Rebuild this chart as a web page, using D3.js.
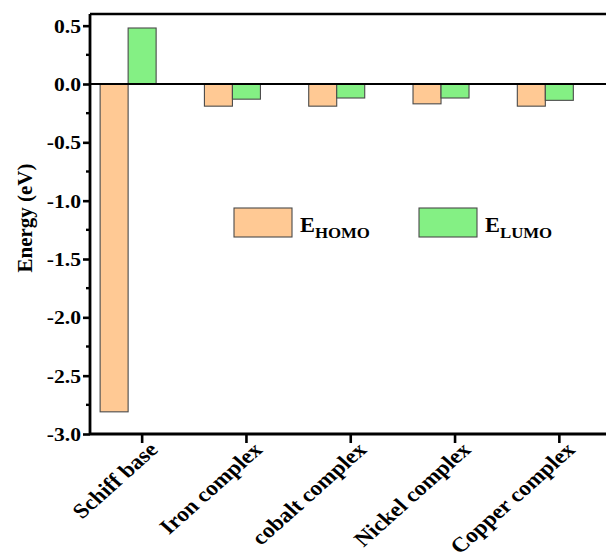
<!DOCTYPE html>
<html>
<head>
<meta charset="utf-8">
<script src="https://cdn.jsdelivr.net/npm/d3@7"></script>
<style>
  html, body { margin: 0; padding: 0; background: #fff; }
  svg { display: block; }
  text { font-family: "Times New Roman", "Liberation Serif", Tinos, serif; font-weight: bold; fill: #000; }
</style>
</head>
<body>
<svg id="chart" width="606" height="558"></svg>
<script>
// Frontier orbital energies (eV) of the ligand and its metal complexes
const categories = ["Schiff base", "Iron complex", "cobalt complex", "Nickel complex", "Copper complex"];
const series = ["HOMO", "LUMO"];
const homo = [-2.81, -0.19, -0.19, -0.17, -0.19];
const lumo = [0.48, -0.13, -0.12, -0.12, -0.14];
const yTicks = [-3.0, -2.5, -2.0, -1.5, -1.0, -0.5, 0.0, 0.5];
const yMinorTicks = [-2.75, -2.25, -1.75, -1.25, -0.75, -0.25, 0.25];

const colors = { HOMO: "#FFC994", LUMO: "#84F084" };
const serif = '"Times New Roman", "Liberation Serif", Tinos, serif';

const svg = d3.select("#chart");
const plotLeft = 90, plotRight = 611.5, plotTop = 14, plotBottom = 434;

const x = d3.scaleBand().domain(categories).range([plotLeft, plotRight]).padding(0);
const y = d3.scaleLinear().domain([-3, 0.6]).range([plotBottom, plotTop]);
const bw = x.bandwidth();
// HOMO sits left of the tick, LUMO is centred on it
const xs = d3.scaleBand().domain(series).range([-0.403 * bw, 0.134 * bw]).padding(0);

const rows = categories.map((c, i) => ({ c, HOMO: homo[i], LUMO: lumo[i] }));

// bars
const g = svg.append("g");
rows.forEach(r => {
  series.forEach(s => {
    const v = r[s];
    const cx = x(r.c) + bw / 2;
    g.append("rect")
      .attr("x", cx + xs(s))
      .attr("width", xs.bandwidth())
      .attr("y", y(Math.max(0, v)))
      .attr("height", Math.abs(y(v) - y(0)))
      .attr("fill", colors[s])
      .attr("stroke", "#4a4a4a")
      .attr("stroke-width", 1.1);
  });
});

// zero line
svg.append("line")
  .attr("x1", plotLeft).attr("x2", 606)
  .attr("y1", y(0)).attr("y2", y(0))
  .attr("stroke", "#000").attr("stroke-width", 2.2);

// top frame
svg.append("line")
  .attr("x1", plotLeft).attr("x2", 606)
  .attr("y1", plotTop).attr("y2", plotTop)
  .attr("stroke", "#000").attr("stroke-width", 2.6);

// y axis
const yAxis = svg.append("g")
  .attr("transform", `translate(${plotLeft},0)`)
  .call(d3.axisLeft(y).tickValues(yTicks).tickSize(7).tickSizeOuter(0)
    .tickFormat(d => d.toFixed(1)));
yAxis.attr("font-family", serif);
yAxis.select(".domain").attr("stroke-width", 2.8).attr("d", `M0,${plotTop}V${plotBottom}`);
yAxis.selectAll(".tick line").attr("stroke-width", 2.6);
yAxis.selectAll(".tick text")
  .attr("x", null).attr("dy", null)
  .attr("dominant-baseline", "central")
  .style("font-size", "18px")
  .style("font-family", serif)
  .style("font-weight", "bold")
  .attr("transform", "translate(-9,0) scale(1.2,1)");

// minor ticks
svg.append("g").selectAll("line").data(yMinorTicks).join("line")
  .attr("x1", plotLeft - 4).attr("x2", plotLeft)
  .attr("y1", d => y(d)).attr("y2", d => y(d))
  .attr("stroke", "#000").attr("stroke-width", 2.4);

// x axis
const xAxis = svg.append("g")
  .attr("transform", `translate(0,${plotBottom})`)
  .call(d3.axisBottom(x).tickSize(9).tickSizeOuter(0));
xAxis.attr("font-family", serif);
xAxis.select(".domain").attr("stroke-width", 2.8).attr("d", `M${plotLeft},0H606`);
xAxis.selectAll(".tick line").attr("stroke-width", 2.6);
xAxis.selectAll(".tick text")
  .attr("y", null).attr("dy", null)
  .attr("text-anchor", "end")
  .style("font-size", "21px")
  .style("font-family", serif)
  .style("font-weight", "bold")
  .attr("transform", "translate(17,17) scale(1.12,1) rotate(-45)");

// y title
svg.append("text")
  .attr("transform", "translate(32,218) rotate(-90)")
  .attr("text-anchor", "middle")
  .style("font-size", "21px")
  .text("Energy (eV)");

// legend
const legend = [
  { key: "HOMO", x: 234 },
  { key: "LUMO", x: 419 }
];
legend.forEach(l => {
  svg.append("rect")
    .attr("x", l.x).attr("y", 208)
    .attr("width", 58).attr("height", 29)
    .attr("fill", colors[l.key])
    .attr("stroke", "#4a4a4a").attr("stroke-width", 1.1);
  const t = svg.append("text")
    .attr("transform", `translate(${l.x + 66},232) scale(1.12,1)`)
    .style("font-size", "20px");
  t.append("tspan").text("E");
  t.append("tspan").attr("dy", 6).style("font-size", "15px").text(l.key);
});
</script>
</body>
</html>
